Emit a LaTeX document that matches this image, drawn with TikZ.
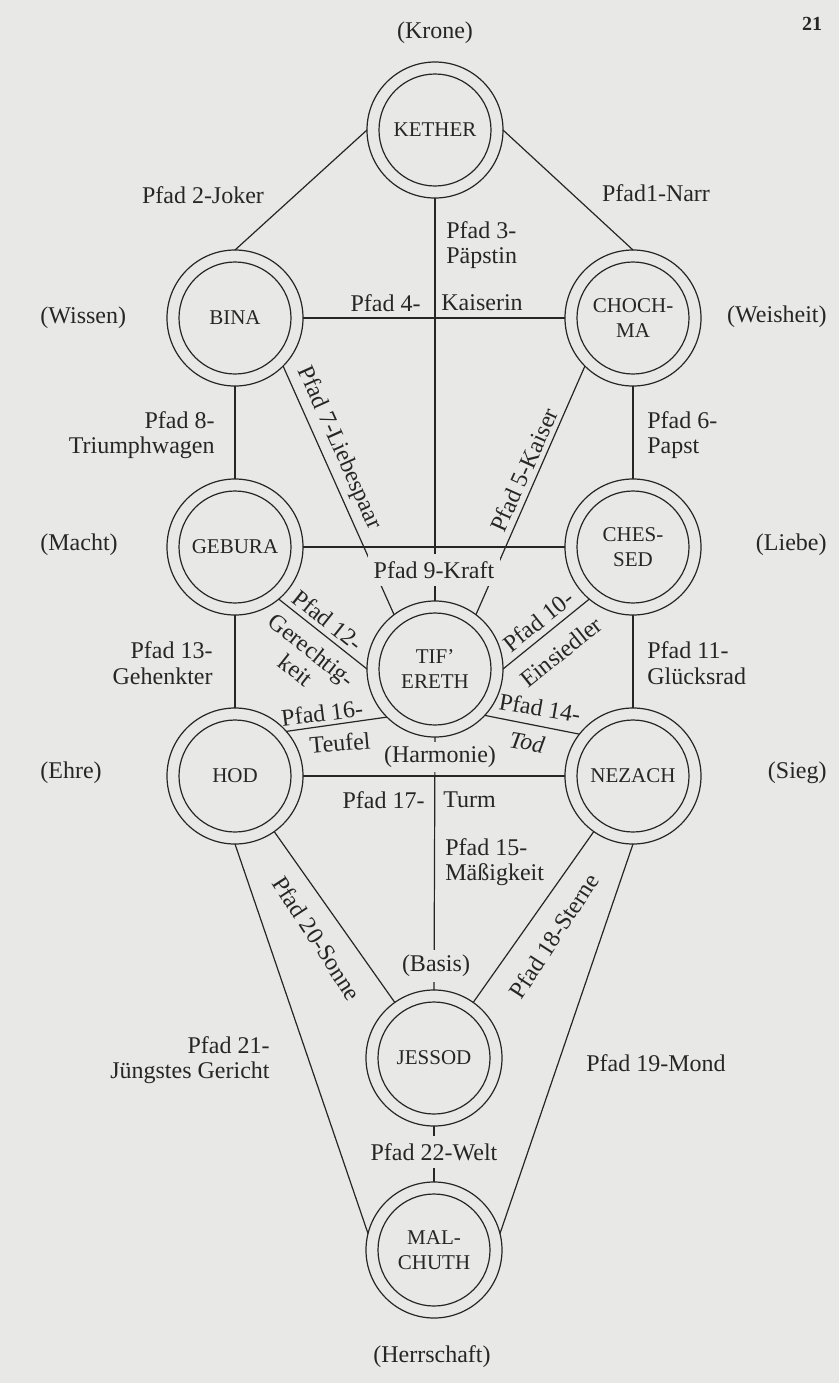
\documentclass[tikz,border=0pt]{standalone}
\usepackage{fontspec}
\setmainfont{Liberation Serif}
\definecolor{bg}{RGB}{232,232,230}
\definecolor{ink}{RGB}{38,38,38}
\begin{document}
\begin{tikzpicture}[x=0.5pt,y=-0.5pt,
  sef/.style={circle,draw=ink,line width=0.6pt,minimum size=68pt,inner sep=0pt,outer sep=0pt,align=center,text=ink,font=\fontsize{10.5}{12.5}\selectfont},
  lbl/.style={inner sep=0pt,text=ink,font=\fontsize{12}{12.75}\selectfont},
  gap/.style={lbl,fill=bg,inner xsep=3pt,minimum height=16pt},
  conn/.style={draw=ink,line width=0.6pt}]
\useasboundingbox[fill=bg] (0,0) rectangle (839,1383);
% sefirot
\node[sef] (keth) at (435,130) {KETHER};
\node[sef] (bina) at (235,318) {BINA};
\node[sef] (choch) at (633,318) {CHOCH-\\MA};
\node[sef] (geb) at (235,547) {GEBURA};
\node[sef] (ches) at (633,547) {CHES-\\SED};
\node[sef] (tif) at (435,669) {TIF'\\ERETH};
\node[sef] (hod) at (235,776) {HOD};
\node[sef] (nez) at (633,776) {NEZACH};
\node[sef] (jes) at (434,1058) {JESSOD};
\node[sef] (mal) at (434,1250) {MAL-\\CHUTH};
\foreach \n in {keth,bina,choch,geb,ches,tif,hod,nez,jes,mal}
  \draw[ink,line width=0.6pt] (\n.center) circle[radius=28pt];
% paths
\draw[conn] (keth.west) -- (bina.north);
\draw[conn] (keth.east) -- (choch.north);
\draw[conn] (keth.south) -- (tif.north);
\draw[conn] (bina.east) -- (choch.west);
\draw[conn] (bina.south) -- (geb.north);
\draw[conn] (choch.south) -- (ches.north);
\draw[conn] (bina.-45) -- (tif.127);
\draw[conn] (choch.-135) -- (tif.53);
\draw[conn] (geb.east) -- (ches.west);
\draw[conn] (geb.-50) -- (tif.west);
\draw[conn] (ches.-130) -- (tif.east);
\draw[conn] (geb.south) -- (hod.north);
\draw[conn] (ches.south) -- (nez.north);
\draw[conn] (hod.41.5) -- (tif.225);
\draw[conn] (nez.142) -- (tif.-43);
\draw[conn] (hod.east) -- (nez.west);
\draw[conn] (tif.south) -- (jes.north);
\draw[conn] (hod) -- (jes);
\draw[conn] (nez) -- (jes);
\draw[conn] (hod.south) -- (mal.166);
\draw[conn] (nez.south) -- (mal.14);
\draw[conn] (jes.south) -- (mal.north);
% labels
\node[lbl,font=\fontsize{10}{12}\selectfont\bfseries] (pg) at (812,24) {21};
\node[lbl] (krone) at (435,33) {(Krone)};
\node[lbl] (p2) at (203,195) {Pfad 2-Joker};
\node[lbl] (p1) at (656,193) {Pfad1-Narr};
\node[lbl,anchor=west,align=left] (p3) at (446,245) {Pfad 3-\\Päpstin};
\node[lbl,anchor=west] (wissen) at (40,318) {(Wissen)};
\node[lbl,anchor=east] (weisheit) at (827,317) {(Weisheit)};
\node[lbl,anchor=east] (p4a) at (421,303) {Pfad 4-};
\node[lbl,anchor=west] (p4b) at (441,303) {Kaiserin};
\node[lbl,anchor=east,align=right] (p8) at (215,435) {Pfad 8-\\Triumphwagen};
\node[lbl,anchor=west,align=left] (p6) at (647,435) {Pfad 6-\\Papst};
\node[lbl,rotate=-65.8] (p7) at (339,448) {Pfad 7-Liebespaar};
\node[lbl,rotate=65.8] (p5) at (524,470) {Pfad 5-Kaiser};
\node[lbl,anchor=west] (macht) at (40,545) {(Macht)};
\node[lbl,anchor=east] (liebe) at (827,545) {(Liebe)};
\node[gap] (p9) at (434,570) {Pfad 9-Kraft};
\node[lbl,rotate=-38.5] (p12) at (328,620) {Pfad 12-};
\node[lbl,rotate=-38.5,align=center] (p12b) at (304,660) {Gerechtig-\\keit};
\node[lbl,rotate=38.5] (p10) at (538,621) {Pfad 10-};
\node[lbl,rotate=38.5] (p10b) at (561,652) {Einsiedler};
\node[lbl,anchor=east,align=right] (p13) at (213,663) {Pfad 13-\\Gehenkter};
\node[lbl,anchor=west,align=left] (p11) at (647,663) {Pfad 11-\\Glücksrad};
\node[lbl,rotate=7] (p16) at (322,713) {Pfad 16-};
\node[lbl,rotate=5] (p16b) at (340,743) {Teufel};
\node[lbl,rotate=-10] (p14) at (540,708) {Pfad 14-};
\node[lbl,rotate=-10,font=\fontsize{12}{12.75}\selectfont\itshape] (p14b) at (527,742) {Tod};
\node[gap,minimum height=15pt] (harm) at (440,757) {(Harmonie)};
\node[lbl,anchor=west] (ehre) at (40,773) {(Ehre)};
\node[lbl,anchor=east] (sieg) at (827,773) {(Sieg)};
\node[lbl,anchor=east] (p17a) at (425,800) {Pfad 17-};
\node[lbl,anchor=west] (p17b) at (443,800) {Turm};
\node[lbl,anchor=west,align=left] (p15) at (445,862) {Pfad 15-\\Mäßigkeit};
\node[lbl,rotate=-57] (p20) at (317,938) {Pfad 20-Sonne};
\node[lbl,rotate=57] (p18) at (554,936) {Pfad 18-Sterne};
\node[gap] (basis) at (436,966) {(Basis)};
\node[lbl,anchor=east,align=right] (p21) at (270,1060) {Pfad 21-\\Jüngstes Gericht};
\node[lbl] (p19) at (656,1063) {Pfad 19-Mond};
\node[gap] (p22) at (434,1152) {Pfad 22-Welt};
\node[lbl] (herr) at (432,1357) {(Herrschaft)};
\end{tikzpicture}
\end{document}
